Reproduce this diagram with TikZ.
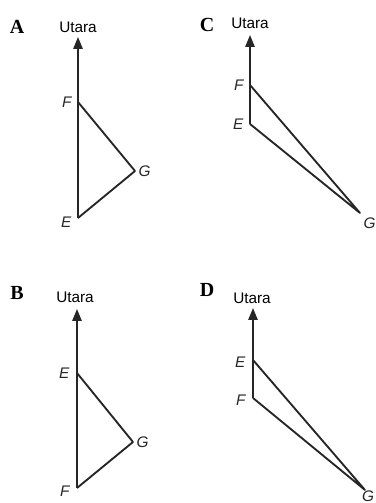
\documentclass[tikz,border=0pt]{standalone}
\usepackage{fontspec}
\setsansfont{Liberation Sans}
\setmainfont{Liberation Serif}
\usetikzlibrary{arrows.meta}

\begin{document}
\begin{tikzpicture}[
    x=0.75pt, y=0.75pt,
    % line styles
    edge/.style={draw, line width=1.4pt, black!85, line join=round},
    north/.style={edge, -{Triangle[length=9pt, width=7pt]}},
    % text styles
    ptlbl/.style={font=\sffamily\itshape\fontsize{11.5}{13}\selectfont, inner sep=1pt, black!85},
    utara/.style={font=\sffamily\fontsize{11.5}{13}\selectfont, inner sep=0pt},
    choice/.style={font=\rmfamily\bfseries\fontsize{15}{17}\selectfont, inner sep=0pt},
]
\useasboundingbox (0,0) rectangle (375,503);

% =========================================================
% Panel A
% =========================================================
\begin{scope}[shift={(78,0)}]
\coordinate (NA) at (0, 466);
\coordinate (FA) at (0, 401);
\coordinate (GA) at (57, 332);
\coordinate (EA) at (0, 285);

\node[choice] (optA) at (-61, 476) {A};
\node[utara]  (uA)   at (0, 476) {Utara};
\node[ptlbl, anchor=east] (lFA) at (-5, 401) {F};
\node[ptlbl, anchor=west] (lGA) at (59, 332) {G};
\node[ptlbl, anchor=east] (lEA) at (-5, 281) {E};

\draw[north] (EA) -- (NA);
\draw[edge] (FA) -- (GA) -- (EA);
\end{scope}

% =========================================================
% Panel C
% =========================================================
\begin{scope}[shift={(250,0)}]
\coordinate (NC) at (0, 468);
\coordinate (FC) at (0, 418);
\coordinate (EC) at (0, 379);
\coordinate (GC) at (110, 290);

\node[choice] (optC) at (-43, 478) {C};
\node[utara]  (uC)   at (0, 480) {Utara};
\node[ptlbl, anchor=east] (lFC) at (-5, 418) {F};
\node[ptlbl, anchor=east] (lEC) at (-5, 379) {E};
\node[ptlbl, anchor=north west] (lGC) at (112, 287) {G};

\draw[north] (EC) -- (NC);
\draw[edge] (FC) -- (GC) -- (EC);
\end{scope}

% =========================================================
% Panel B
% =========================================================
\begin{scope}[shift={(77,0)}]
\coordinate (NB) at (0, 194);
\coordinate (EB) at (0, 130);
\coordinate (GB) at (56, 61);
\coordinate (FB) at (0, 15);

\node[choice] (optB) at (-60, 210) {B};
\node[utara]  (uB)   at (-2, 206) {Utara};
\node[ptlbl, anchor=east] (lEB) at (-6, 130) {E};
\node[ptlbl, anchor=west] (lGB) at (58, 61) {G};
\node[ptlbl, anchor=east] (lFB) at (-6, 12) {F};

\draw[north] (FB) -- (NB);
\draw[edge] (EB) -- (GB) -- (FB);
\end{scope}

% =========================================================
% Panel D
% =========================================================
\begin{scope}[shift={(253,0)}]
\coordinate (ND) at (0, 195);
\coordinate (ED) at (0, 143);
\coordinate (FD) at (0, 105);
\coordinate (GD) at (112, 13);

\node[choice] (optD) at (-46, 213) {D};
\node[utara]  (uD)   at (-1, 205) {Utara};
\node[ptlbl, anchor=east] (lED) at (-6, 141) {E};
\node[ptlbl, anchor=east] (lFD) at (-6, 103) {F};
\node[ptlbl, anchor=south east, inner sep=0.5pt] (lGD) at (122, 0.5) {G};

\draw[north] (FD) -- (ND);
\draw[edge] (ED) -- (GD) -- (FD);
\end{scope}

\end{tikzpicture}
\end{document}
